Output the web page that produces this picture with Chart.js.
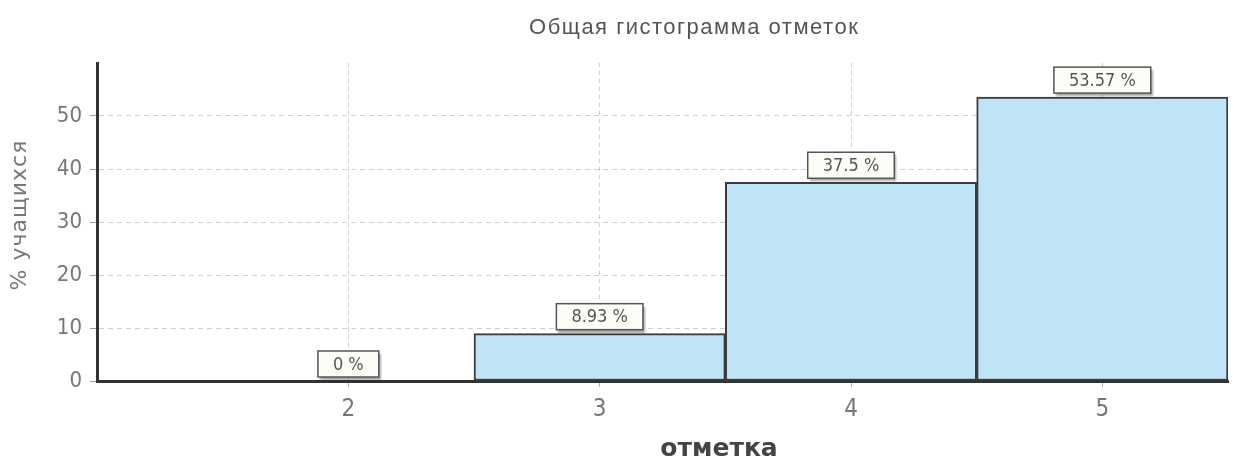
<!DOCTYPE html>
<html>
<head>
<meta charset="utf-8">
<script src="https://cdn.jsdelivr.net/npm/chart.js@4/dist/chart.umd.min.js"></script>
<style>
  html, body { margin: 0; padding: 0; background: #fff; }
  #wrap { width: 1235px; height: 463px; }
</style>
</head>
<body>
<div id="wrap"><canvas id="myChart"></canvas></div>
<script>
const marks = [2, 3, 4, 5];
const percents = [0, 8.93, 37.5, 53.57];
const yTicks = [0, 10, 20, 30, 40, 50];
const chartTitle = "Общая гистограмма отметок";
const xTitle = "отметка";
const yTitle = "% учащихся";

// boxes with the value above every bar, plus the texts
const labelsPlugin = {
  id: "labels",
  afterDatasetsDraw(chart) {
    const c = chart.ctx;
    const meta = chart.getDatasetMeta(0);
    c.save();
    c.font = "18px 'DejaVu Sans Condensed'";
    c.textAlign = "center";
    c.textBaseline = "middle";
    meta.data.forEach((bar, i) => {
      const text = percents[i] + " %";
      const w = c.measureText(text).width + 30;
      const h = 26;
      const x = bar.x - w / 2;
      const y = bar.y - h - 4;
      c.shadowColor = "rgba(0,0,0,0.35)";
      c.shadowOffsetX = 2;
      c.shadowOffsetY = 3;
      c.shadowBlur = 2;
      c.fillStyle = "#fdfdf8";
      c.fillRect(x, y, w, h);
      c.shadowColor = "transparent";
      c.strokeStyle = "#555";
      c.lineWidth = 1.5;
      c.strokeRect(x, y, w, h);
      c.fillStyle = "#555";
      c.fillText(text, bar.x, y + h / 2 + 1);
    });
    c.restore();
  },
  afterDraw(chart) {
    const c = chart.ctx;
    const a = chart.chartArea;
    c.save();
    c.textAlign = "center";
    c.textBaseline = "middle";
    c.fillStyle = "#555";
    c.font = "22px 'Liberation Sans'";
    c.letterSpacing = "1.5px";
    c.fillText(chartTitle, a.left + a.width * 0.528, 28);
    c.letterSpacing = "0px";
    c.fillStyle = "#444";
    c.font = "bold 25px 'DejaVu Sans'";
    c.fillText(xTitle, a.left + a.width * 0.55, 449);
    c.translate(20, 215);
    c.rotate(-Math.PI / 2);
    c.fillStyle = "#777";
    c.font = "22px 'DejaVu Sans'";
    c.letterSpacing = "1px";
    c.fillText(yTitle, 0, 0);
    c.restore();
  }
};

new Chart(document.getElementById("myChart"), {
  type: "bar",
  data: {
    datasets: [{
      data: marks.map((m, i) => ({ x: m, y: percents[i] })),
      backgroundColor: "#bfe4f6",
      borderColor: "#3c3c3c",
      borderWidth: 2,
      borderSkipped: false,
      barPercentage: 1,
      categoryPercentage: 1
    }]
  },
  options: {
    responsive: true,
    maintainAspectRatio: false,
    animation: false,
    layout: { padding: { top: 63, right: 7, left: 0, bottom: 0 } },
    plugins: {
      legend: { display: false },
      tooltip: { enabled: false }
    },
    scales: {
      x: {
        type: "linear",
        min: 1,
        max: 5.5,
        offset: false,
        afterFit: s => { s.height = 82; },
        afterBuildTicks: s => { s.ticks = marks.map(v => ({ value: v })); },
        ticks: {
          autoSkip: false,
          maxRotation: 0,
          color: "#777",
          font: { family: "DejaVu Sans Condensed", size: 24 },
          padding: 8,
          callback: v => String(v)
        },
        grid: {
          offset: false,
          color: "#cfcfcf",
          tickColor: "#aaa",
          tickLength: 6,
          lineWidth: 1
        },
        border: { color: "#333", width: 3, dash: [4, 4] }
      },
      y: {
        min: 0,
        max: 60,
        afterFit: s => { s.width = 97; },
        afterBuildTicks: s => { s.ticks = yTicks.concat([60]).map(v => ({ value: v })); },
        ticks: {
          color: "#777",
          font: { family: "DejaVu Sans Condensed", size: 22 },
          padding: 8,
          callback: v => yTicks.includes(v) ? String(v) : ""
        },
        grid: {
          color: ctx => (ctx.tick && ctx.tick.value > 0 && ctx.tick.value < 60) ? "#cfcfcf" : "transparent",
          tickColor: ctx => (ctx.tick && ctx.tick.value < 60) ? "#999" : "transparent",
          tickLength: 7,
          lineWidth: 1
        },
        border: { color: "#333", width: 3, dash: [5, 4] }
      }
    }
  },
  plugins: [labelsPlugin]
});
</script>
</body>
</html>
